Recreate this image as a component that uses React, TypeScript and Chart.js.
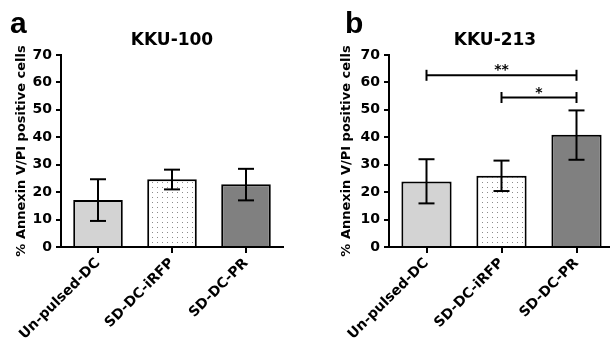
import React, { useEffect, useRef } from 'react';
import { Chart, registerables } from 'chart.js';

Chart.register(...registerables);

const categories = ['Un-pulsed-DC', 'SD-DC-iRFP', 'SD-DC-PR'];
const yTickValues = [0, 10, 20, 30, 40, 50, 60, 70];

const kku100Means = [17.1, 24.7, 22.9];
const kku100Lower = [9.5, 21.0, 17.0];
const kku100Upper = [24.7, 28.2, 28.5];

const kku213Means = [23.9, 26.0, 40.9];
const kku213Lower = [15.9, 20.4, 31.8];
const kku213Upper = [32.0, 31.5, 49.8];

const kku100Brackets: { from: number; to: number; value: number; label: string }[] = [];
const kku213Brackets = [
  { from: 0, to: 2, value: 62.6, label: '**' },
  { from: 1, to: 2, value: 54.5, label: '*' },
];

const yTitle = '% Annexin V/PI positive cells';
const FONT = '"DejaVu Sans", Verdana, sans-serif';

function makeDots(): CanvasPattern | string {
  const c = document.createElement('canvas');
  c.width = 5;
  c.height = 5;
  const g = c.getContext('2d');
  if (!g) return '#ffffff';
  g.fillStyle = '#ffffff';
  g.fillRect(0, 0, 5, 5);
  g.fillStyle = '#8c8c8c';
  g.fillRect(2, 2, 1, 1);
  const p = g.createPattern(c, 'repeat');
  return p || '#ffffff';
}

type PanelProps = {
  left: number;
  width: number;
  letter: string;
  letterX: number;
  title: string;
  titleX: number;
  means: number[];
  lower: number[];
  upper: number[];
  brackets: { from: number; to: number; value: number; label: string }[];
  padLeft: number;
  axisWidth: number;
  padRight: number;
};

function Panel(props: PanelProps) {
  const ref = useRef<HTMLCanvasElement | null>(null);
  useEffect(() => {
    if (!ref.current) return;
    const line = (ctx: CanvasRenderingContext2D, x1: number, y1: number, x2: number, y2: number) => {
      ctx.beginPath();
      ctx.moveTo(x1, y1);
      ctx.lineTo(x2, y2);
      ctx.stroke();
    };
    const annot = {
      id: 'annot',
      afterDatasetsDraw(chart: any) {
        const { ctx, scales } = chart;
        const x = scales.x;
        const y = scales.y;
        ctx.save();
        ctx.strokeStyle = '#000';
        ctx.lineWidth = 2;
        props.lower.forEach((lo, i) => {
          const cx = x.getPixelForValue(i);
          const yl = y.getPixelForValue(lo);
          const yu = y.getPixelForValue(props.upper[i]);
          line(ctx, cx, yl, cx, yu);
          line(ctx, cx - 8, yl, cx + 8, yl);
          line(ctx, cx - 8, yu, cx + 8, yu);
        });
        props.brackets.forEach((b) => {
          const x1 = x.getPixelForValue(b.from);
          const x2 = x.getPixelForValue(b.to);
          const by = y.getPixelForValue(b.value);
          line(ctx, x1, by, x2, by);
          line(ctx, x1, by - 5.5, x1, by + 5.5);
          line(ctx, x2, by - 5.5, x2, by + 5.5);
          ctx.fillStyle = '#000';
          ctx.font = `bold 14px ${FONT}`;
          ctx.textAlign = 'center';
          ctx.textBaseline = 'alphabetic';
          ctx.fillText(b.label, (x1 + x2) / 2, by - 1);
        });
        ctx.fillStyle = '#000';
        ctx.font = `bold 17px ${FONT}`;
        ctx.textAlign = 'center';
        ctx.textBaseline = 'alphabetic';
        ctx.fillText(props.title, props.titleX, 45);
        ctx.font = 'bold 30px "Liberation Sans", Arial, sans-serif';
        ctx.textAlign = 'left';
        ctx.fillText(props.letter, props.letterX, 33);
        ctx.restore();
      },
    };
    const dots = makeDots();
    const chart = new Chart(ref.current, {
      type: 'bar',
      data: {
        labels: categories,
        datasets: [
          {
            data: props.means,
            backgroundColor: ['#d3d3d3', dots as any, '#808080'],
            borderColor: '#000',
            borderWidth: 2,
            barPercentage: 0.67,
            categoryPercentage: 1,
          },
        ],
      },
      options: {
        animation: false,
        responsive: false,
        maintainAspectRatio: false,
        layout: { padding: { left: props.padLeft, right: props.padRight, top: 55, bottom: 0 } },
        plugins: { legend: { display: false }, tooltip: { enabled: false }, title: { display: false } },
        scales: {
          x: {
            grid: { display: true, offset: false, drawOnChartArea: false, drawTicks: true, tickLength: 6, color: '#000', lineWidth: 2 },
            border: { display: true, color: '#000', width: 2 },
            ticks: {
              autoSkip: false,
              maxRotation: 45,
              minRotation: 45,
              color: '#000',
              padding: 2,
              font: { family: FONT, weight: 'bold', size: 14 },
            },
            afterFit: (s: any) => {
              s.height = 98;
            },
          },
          y: {
            min: 0,
            max: 70,
            afterBuildTicks: (s: any) => {
              s.ticks = yTickValues.map((v) => ({ value: v }));
            },
            grid: { display: true, drawOnChartArea: false, drawTicks: true, tickLength: 5, color: '#000', lineWidth: 2 },
            border: { display: true, color: '#000', width: 2 },
            ticks: { color: '#000', padding: 4, font: { family: FONT, weight: 'bold', size: 14 } },
            title: {
              display: true,
              text: yTitle,
              color: '#000',
              padding: 0,
              font: { family: FONT, weight: 'bold', size: 13 },
            },
            afterFit: (s: any) => {
              s.width = props.axisWidth;
            },
          },
        },
      } as any,
      plugins: [annot],
    });
    return () => chart.destroy();
  }, []);
  return (
    <canvas
      ref={ref}
      width={props.width}
      height={345}
      style={{ position: 'absolute', left: props.left, top: 0, width: props.width, height: 345 }}
    />
  );
}

export default function App() {
  return (
    <div
      style={{
        position: 'fixed',
        left: 0,
        top: 0,
        width: 610,
        height: 345,
        background: '#fff',
        overflow: 'hidden',
      }}
    >
      <Panel
        left={0}
        width={305}
        letter="a"
        letterX={10}
        title="KKU-100"
        titleX={172}
        means={kku100Means}
        lower={kku100Lower}
        upper={kku100Upper}
        brackets={kku100Brackets}
        padLeft={14}
        axisWidth={47}
        padRight={22}
      />
      <Panel
        left={305}
        width={312}
        letter="b"
        letterX={40}
        title="KKU-213"
        titleX={190}
        means={kku213Means}
        lower={kku213Lower}
        upper={kku213Upper}
        brackets={kku213Brackets}
        padLeft={34}
        axisWidth={50}
        padRight={3}
      />
    </div>
  );
}
